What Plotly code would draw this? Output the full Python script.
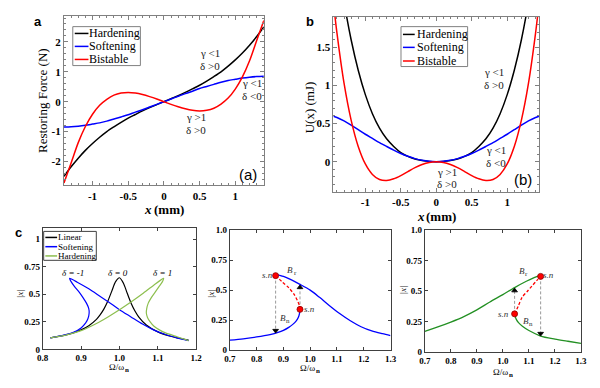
import plotly.graph_objects as go

SERIF = "Liberation Serif, Times New Roman, Times, serif"
SANS = "Liberation Sans, Arial, sans-serif"
# the page body has an 8px default margin, so the figure is drawn 8px in from the window edge
OFF = 8
W, H = 600 - OFF, 388 - OFF

# ---------------- Panel a: restoring force (N) vs x (mm) ----------------
xa_mm = [-1.4, -1.3, -1.2, -1.1, -1.0, -0.9, -0.8, -0.7, -0.6, -0.5, -0.4, -0.3, -0.2, -0.1, 0.0,
         0.1, 0.2, 0.3, 0.4, 0.5, 0.6, 0.7, 0.8, 0.9, 1.0, 1.1, 1.2, 1.3, 1.4]
fa_hard = [-2.50, -2.18, -1.89, -1.63, -1.40, -1.19, -1.00, -0.84, -0.69, -0.55, -0.43, -0.31, -0.20, -0.10, 0.00,
           0.10, 0.20, 0.31, 0.43, 0.55, 0.69, 0.84, 1.00, 1.19, 1.40, 1.63, 1.89, 2.18, 2.50]
fa_soft = [-0.85, -0.84, -0.82, -0.79, -0.75, -0.71, -0.65, -0.58, -0.51, -0.44, -0.35, -0.27, -0.18, -0.09, 0.00,
           0.09, 0.18, 0.27, 0.35, 0.44, 0.51, 0.58, 0.65, 0.71, 0.75, 0.79, 0.82, 0.84, 0.85]
fa_bist = [-2.72, -2.05, -1.37, -0.83, -0.42, -0.12, 0.08, 0.22, 0.29, 0.31, 0.29, 0.24, 0.17, 0.09, 0.00,
           -0.09, -0.17, -0.24, -0.29, -0.31, -0.29, -0.22, -0.08, 0.12, 0.42, 0.83, 1.37, 2.05, 2.72]

# ---------------- Panel b: potential U(x) (mJ) ----------------
xb_mm = [-1.45, -1.4, -1.3, -1.2, -1.1, -1.0, -0.9, -0.8, -0.7, -0.6, -0.5, -0.4, -0.3, -0.2, -0.1, 0.0,
         0.1, 0.2, 0.3, 0.4, 0.5, 0.6, 0.7, 0.8, 0.9, 1.0, 1.1, 1.2, 1.3, 1.4, 1.45]
ub_hard = [3.07, 2.72, 2.10, 1.60, 1.20, 0.88, 0.63, 0.44, 0.30, 0.20, 0.12, 0.07, 0.036, 0.015, 0.004, 0.0,
           0.004, 0.015, 0.036, 0.07, 0.12, 0.20, 0.30, 0.44, 0.63, 0.88, 1.20, 1.60, 2.10, 2.72, 3.07]
ub_soft = [0.595, 0.58, 0.535, 0.48, 0.42, 0.36, 0.305, 0.25, 0.20, 0.152, 0.108, 0.071, 0.040, 0.018, 0.0045, 0.0,
           0.0045, 0.018, 0.040, 0.071, 0.108, 0.152, 0.20, 0.25, 0.305, 0.36, 0.42, 0.48, 0.535, 0.58, 0.595]
ub_bist = [2.09, 1.69, 1.03, 0.546, 0.20, -0.03, -0.167, -0.234, -0.247, -0.225, -0.182, -0.130, -0.079, -0.037, -0.0095, 0.0,
           -0.0095, -0.037, -0.079, -0.130, -0.182, -0.225, -0.247, -0.234, -0.167, -0.03, 0.20, 0.546, 1.03, 1.69, 2.09]

# ---------------- Panel c1: frequency responses ----------------
w_lin = [0.82, 0.85, 0.88, 0.90, 0.92, 0.94, 0.95, 0.96, 0.97, 0.98, 0.99, 1.00, 1.01, 1.02, 1.03, 1.04, 1.05,
         1.07, 1.10, 1.13, 1.15, 1.18]
a_lin = [0.105, 0.123, 0.150, 0.177, 0.215, 0.273, 0.315, 0.370, 0.441, 0.529, 0.615, 0.650, 0.603, 0.512, 0.422,
         0.351, 0.296, 0.222, 0.159, 0.122, 0.105, 0.085]
w_soft = [0.82, 0.85, 0.88, 0.90, 0.912, 0.918, 0.921, 0.920, 0.914, 0.905, 0.895, 0.883, 0.874, 0.870,
          0.89, 0.92, 0.95, 0.98, 1.00, 1.03, 1.06, 1.09, 1.12, 1.15, 1.18]
a_soft = [0.105, 0.125, 0.155, 0.195, 0.24, 0.28, 0.33, 0.37, 0.42, 0.47, 0.52, 0.57, 0.615, 0.645,
          0.61, 0.55, 0.48, 0.41, 0.36, 0.295, 0.23, 0.175, 0.135, 0.105, 0.08]
w_hard = [0.82, 0.86, 0.90, 0.94, 0.97, 1.00, 1.03, 1.06, 1.09, 1.115,
          1.112, 1.103, 1.093, 1.083, 1.075, 1.071, 1.070, 1.073, 1.080, 1.090, 1.105, 1.12, 1.15, 1.18]
a_hard = [0.105, 0.13, 0.17, 0.235, 0.295, 0.36, 0.43, 0.505, 0.585, 0.645,
          0.615, 0.57, 0.52, 0.47, 0.42, 0.37, 0.33, 0.29, 0.25, 0.21, 0.175, 0.15, 0.115, 0.08]
delta_labels = ["δ = -1", "δ = 0", "δ = 1"]
delta_w = [0.88, 0.997, 1.112]
delta_a = [0.69, 0.69, 0.69]

# ---------------- Panel c2: softening with jumps ----------------
c2_low_w = [0.70, 0.75, 0.80, 0.85, 0.88, 0.90, 0.92, 0.935, 0.948, 0.956, 0.960, 0.962]
c2_low_a = [0.083, 0.095, 0.11, 0.13, 0.148, 0.165, 0.19, 0.215, 0.245, 0.275, 0.305, 0.34]
c2_up_w = [0.872, 0.90, 0.93, 0.96, 1.00, 1.035, 1.07, 1.11, 1.15, 1.19, 1.23, 1.27, 1.30]
c2_up_a = [0.632, 0.615, 0.585, 0.55, 0.50, 0.44, 0.375, 0.305, 0.245, 0.195, 0.16, 0.137, 0.122]
c2_uns_w = [0.871, 0.895, 0.92, 0.94, 0.953, 0.96, 0.962]
c2_uns_a = [0.621, 0.57, 0.52, 0.465, 0.41, 0.37, 0.34]
c2_sn_w = [0.871, 0.962]
c2_sn_a = [0.621, 0.34]
c2_jump_down = ([0.871, 0.871], [0.621, 0.143])
c2_jump_up = ([0.962, 0.962], [0.34, 0.548])

# ---------------- Panel c3: hardening with jumps ----------------
c3_up_w = [0.70, 0.75, 0.80, 0.85, 0.90, 0.95, 1.00, 1.045, 1.09, 1.12, 1.145]
c3_up_a = [0.168, 0.205, 0.245, 0.29, 0.345, 0.41, 0.47, 0.528, 0.58, 0.61, 0.63]
c3_low_w = [1.045, 1.047, 1.052, 1.06, 1.075, 1.10, 1.145, 1.20, 1.25, 1.30]
c3_low_a = [0.312, 0.29, 0.265, 0.24, 0.21, 0.175, 0.13, 0.105, 0.087, 0.07]
c3_uns_w = [1.045, 1.06, 1.074, 1.095, 1.112, 1.13, 1.145]
c3_uns_a = [0.312, 0.38, 0.448, 0.50, 0.542, 0.585, 0.62]
c3_sn_w = [1.045, 1.145]
c3_sn_a = [0.312, 0.62]
c3_jump_up = ([1.045, 1.045], [0.312, 0.528])
c3_jump_down = ([1.145, 1.145], [0.62, 0.13])

BLUE = "#0000ff"
RED = "#ff0000"
LGREEN = "#8dbf4f"
DGREEN = "#239023"


def fx(p):
    return (p - OFF) / W


def fy(p):
    return 1 - (p - OFF) / H


fig = go.Figure()


def line(x, y, color, xr, yr, width=1.5, dash=None, shape="spline", smoothing=0.8):
    fig.add_trace(go.Scatter(x=x, y=y, mode="lines", xaxis=xr, yaxis=yr, showlegend=False,
                             hoverinfo="skip",
                             line=dict(color=color, width=width, dash=dash, shape=shape,
                                       smoothing=smoothing if shape == "spline" else None)))


def marks(x, y, xr, yr, symbol, color, size, lcolor=None):
    fig.add_trace(go.Scatter(x=x, y=y, mode="markers", xaxis=xr, yaxis=yr, showlegend=False,
                             hoverinfo="skip",
                             marker=dict(symbol=symbol, color=color, size=size,
                                         line=dict(color=lcolor or color, width=0.8))))


# panel a
line(xa_mm, fa_hard, "black", "x", "y")
line(xa_mm, fa_soft, BLUE, "x", "y")
line(xa_mm, fa_bist, RED, "x", "y")
# panel b
line(xb_mm, ub_hard, "black", "x2", "y2")
line(xb_mm, ub_soft, BLUE, "x2", "y2")
line(xb_mm, ub_bist, RED, "x2", "y2")
# panel c1
line(w_lin, a_lin, "black", "x3", "y3", width=1.2)
line(w_soft, a_soft, BLUE, "x3", "y3", width=1.2, smoothing=0.6)
line(w_hard, a_hard, LGREEN, "x3", "y3", width=1.2, smoothing=0.6)
# panel c2
line(c2_jump_down[0], c2_jump_down[1], "#9a9a9a", "x4", "y4", width=1, dash="3px,2px", shape="linear")
line(c2_jump_up[0], c2_jump_up[1], "#9a9a9a", "x4", "y4", width=1, dash="3px,2px", shape="linear")
line(c2_low_w, c2_low_a, BLUE, "x4", "y4", width=1.3)
line(c2_up_w, c2_up_a, BLUE, "x4", "y4", width=1.3)
line(c2_uns_w, c2_uns_a, RED, "x4", "y4", width=1.3, dash="3px,2px")
marks([c2_jump_down[0][1]], [c2_jump_down[1][1] + 0.02], "x4", "y4", "triangle-down", "black", 5)
marks([c2_jump_up[0][1]], [c2_jump_up[1][1] - 0.025], "x4", "y4", "triangle-up", "black", 5)
marks(c2_sn_w, c2_sn_a, "x4", "y4", "circle", RED, 6, "#8b0000")
# panel c3
line(c3_jump_up[0], c3_jump_up[1], "#9a9a9a", "x5", "y5", width=1, dash="3px,2px", shape="linear")
line(c3_jump_down[0], c3_jump_down[1], "#9a9a9a", "x5", "y5", width=1, dash="3px,2px", shape="linear")
line(c3_up_w, c3_up_a, DGREEN, "x5", "y5", width=1.3)
line(c3_low_w, c3_low_a, DGREEN, "x5", "y5", width=1.3)
line(c3_uns_w, c3_uns_a, RED, "x5", "y5", width=1.3, dash="3px,2px")
marks([c3_jump_up[0][1]], [c3_jump_up[1][1] - 0.025], "x5", "y5", "triangle-up", "black", 5)
marks([c3_jump_down[0][1]], [c3_jump_down[1][1] + 0.02], "x5", "y5", "triangle-down", "black", 5)
marks(c3_sn_w, c3_sn_a, "x5", "y5", "circle", RED, 6, "#8b0000")

# ---------------- axes ----------------
GRAY = "#808080"
ab = dict(showline=True, linecolor=GRAY, linewidth=1, mirror="allticks", ticks="inside", ticklen=4,
          tickcolor=GRAY, showgrid=False, zeroline=False,
          tickfont=dict(family=SERIF, size=11, color="black", weight="bold"))
cc = dict(showline=True, linecolor="#404040", linewidth=1, mirror="allticks", ticks="inside", ticklen=3,
          tickcolor="#404040", showgrid=False, zeroline=False,
          tickfont=dict(family=SERIF, size=9, color="black", weight="bold"))

fig.update_layout(
    xaxis=dict(ab, domain=[fx(59), fx(263)], anchor="y", range=[-1.4, 1.4],
               tickvals=[-1, -0.5, 0, 0.5, 1], ticktext=["-1", "-0.5", "0", "0.5", "1"],
               minor=dict(ticks="inside", ticklen=2, tickcolor=GRAY, dtick=0.1)),
    yaxis=dict(ab, domain=[fy(185), fy(11)], anchor="x", range=[-2.8, 2.87],
               tickvals=[-2, -1, 0, 1, 2], ticktext=["-2", "-1", "0", "1", "2"],
               minor=dict(ticks="inside", ticklen=2, tickcolor=GRAY, dtick=0.2)),
    xaxis2=dict(ab, domain=[fx(334), fx(544)], anchor="y2", range=[-1.45, 1.45],
                tickvals=[-1, -0.5, 0, 0.5, 1], ticktext=["-1", "-0.5", "0", "0.5", "1"],
                minor=dict(ticks="inside", ticklen=2, tickcolor=GRAY, dtick=0.1)),
    yaxis2=dict(ab, domain=[fy(192), fy(12)], anchor="x2", range=[-0.4, 1.9],
                tickvals=[0, 0.5, 1, 1.5], ticktext=["0", "0.5", "1", "1.5"],
                minor=dict(ticks="inside", ticklen=2, tickcolor=GRAY, dtick=0.1)),
    xaxis3=dict(cc, domain=[fx(37.3), fx(194)], anchor="y3", range=[0.8, 1.2],
                tickvals=[0.8, 0.9, 1.0, 1.1, 1.2], ticktext=["0.8", "0.9", "1.0", "1.1", "1.2"]),
    yaxis3=dict(cc, domain=[fy(353.5), fy(229)], anchor="x3", range=[0, 1.1],
                tickvals=[0, 0.25, 0.5, 0.75, 1], ticktext=["0", "0.25", "0.5", "0.75", "1"]),
    xaxis4=dict(cc, domain=[fx(228.3), fx(392.3)], anchor="y4", range=[0.7, 1.3],
                tickvals=[0.7, 0.8, 0.9, 1.0, 1.1, 1.2, 1.3],
                ticktext=["0.7", "0.8", "0.9", "1.0", "1.1", "1.2", "1.3"]),
    yaxis4=dict(cc, domain=[fy(354.3), fy(231)], anchor="x4", range=[0, 1],
                tickvals=[0, 0.25, 0.5, 0.75, 1], ticktext=["0", "0.25", "0.5", "0.75", "1.0"]),
    xaxis5=dict(cc, domain=[fx(427.3), fx(586.7)], anchor="y5", range=[0.7, 1.3],
                tickvals=[0.7, 0.8, 0.9, 1.0, 1.1, 1.2, 1.3],
                ticktext=["0.7", "0.8", "0.9", "1.0", "1.1", "1.2", "1.3"]),
    yaxis5=dict(cc, domain=[fy(356), fy(231)], anchor="x5", range=[0, 1],
                tickvals=[0, 0.25, 0.5, 0.75, 1], ticktext=["0", "0.25", "0.5", "0.75", "1.0"]),
    width=W, height=H, margin=dict(l=0, r=0, t=0, b=0),
    paper_bgcolor="white", plot_bgcolor="white", showlegend=False,
)

annotations = []
shapes = []


def text(t, x, y, size, family=SERIF, xref="paper", yref="paper", angle=0, color="black",
         xanchor="center", yanchor="middle", weight="normal", style="normal", xshift=0, yshift=0):
    annotations.append(dict(text=t, x=x, y=y, xref=xref, yref=yref, showarrow=False,
                            textangle=angle, xanchor=xanchor, yanchor=yanchor,
                            xshift=xshift, yshift=yshift, borderpad=0,
                            font=dict(family=family, size=size, color=color, weight=weight, style=style)))


def sub_label(main, sub, x, y, xr, yr, size=9, color="#333"):
    # italic main letter with a small subscript to its lower right
    text(main, x, y, size, xref=xr, yref=yr, color=color, style="italic")
    text(sub, x, y, size - 2, xref=xr, yref=yr, color=color, xshift=5, yshift=-3)


def legend_box(x0, y0, x1, y1, rows, line_x0, line_x1, text_x, size, border=GRAY):
    shapes.append(dict(type="rect", xref="paper", yref="paper", x0=fx(x0), x1=fx(x1), y0=fy(y1), y1=fy(y0),
                       line=dict(color=border, width=1), fillcolor="white", layer="above"))
    for label, color, yy in rows:
        shapes.append(dict(type="line", xref="paper", yref="paper", x0=fx(line_x0), x1=fx(line_x1),
                           y0=fy(yy), y1=fy(yy), line=dict(color=color, width=1.5), layer="above"))
        text(label, fx(text_x), fy(yy), size, xanchor="left", xshift=-1)


def freq_title(xp, yp):
    text("Ω/ω", fx(xp - 2), fy(yp), 9)
    text("n", fx(xp + 8), fy(yp), 7, yshift=-3, weight="bold")


def xmm_title(xp, yp):
    text("x", fx(xp - 16), fy(yp), 13, weight="bold", style="italic")
    text("(mm)", fx(xp + 5), fy(yp), 13, weight="bold")


# panel labels
text("a", fx(32), fy(17), 13, family=SANS, weight="bold")
text("b", fx(310), fy(17), 13, family=SANS, weight="bold")
text("c", fx(13), fy(233), 13, family=SANS, weight="bold")

# panel a texts
text("Restoring Force (N)", fx(37), fy(98), 13, angle=-90)
xmm_title(161, 210)
text("(a)", fx(247), fy(174), 15, family=SANS)
GD = "#222"
text("γ <1", fx(208), fy(49.5), 11, color=GD)
text("δ >0", fx(208), fy(62.5), 11, color=GD)
text("γ <1", fx(251), fy(80), 11, color=GD)
text("δ <0", fx(251), fy(93), 11, color=GD)
text("γ >1", fx(194), fy(115), 11, color=GD)
text("δ >0", fx(194), fy(128), 11, color=GD)
legend_box(68, 22, 137, 62, [("Hardening", "black", 29), ("Softening", BLUE, 42.3), ("Bistable", RED, 55.7)],
           70, 84, 85, 12)

# panel b texts
text("U(x) (mJ)", fx(310), fy(105), 13, angle=-90)
xmm_title(439, 217)
text("(b)", fx(528), fy(179), 15, family=SANS)
text("γ <1", fx(498), fy(69), 11, color=GD)
text("δ >0", fx(498), fy(82), 11, color=GD)
text("γ <1", fx(500), fy(149), 11, color=GD)
text("δ <0", fx(500), fy(162), 11, color=GD)
text("γ >1", fx(450), fy(171), 11, color=GD)
text("δ >0", fx(450), fy(184), 11, color=GD)
legend_box(403, 22, 471, 63, [("Hardening", "black", 30), ("Softening", BLUE, 43.3), ("Bistable", RED, 57.3)],
           405, 417, 419, 12)

# panel c1 texts
legend_box(38.3, 232.3, 92, 262, [("Linear", "black", 238.5), ("Softening", BLUE, 248),
                                    ("Hardening", LGREEN, 257.5)], 40, 52, 53.3, 9, border="#404040")
for lab, ww, aa in zip(delta_labels, delta_w, delta_a):
    text(lab, ww, aa, 9, xref="x3", yref="y3", style="italic")
text("|x|", fx(15), fy(296), 9, angle=-90, style="italic")
freq_title(115, 372)

# panel c2 texts
text("|x|", fx(210), fy(296), 9, angle=-90, style="italic")
freq_title(310, 373)
text("s.n", 0.842, 0.625, 9, xref="x4", yref="y4", color="#333", style="italic")
text("s.n", 0.973, 0.34, 9, xref="x4", yref="y4", color="#333", xanchor="left", style="italic")
sub_label("B", "r", 0.926, 0.665, "x4", "y4")
sub_label("B", "n", 0.898, 0.265, "x4", "y4")

# panel c3 texts
text("|x|", fx(405), fy(292), 9, angle=-90, style="italic")
freq_title(507, 377)
text("s.n", 1.177, 0.63, 9, xref="x5", yref="y5", color="#333", style="italic")
text("s.n", 1.003, 0.312, 9, xref="x5", yref="y5", color="#333", style="italic")
sub_label("B", "r", 1.072, 0.665, "x5", "y5")
sub_label("B", "n", 1.090, 0.25, "x5", "y5")

fig.update_layout(annotations=annotations, shapes=shapes)
fig.write_html("out.html")
